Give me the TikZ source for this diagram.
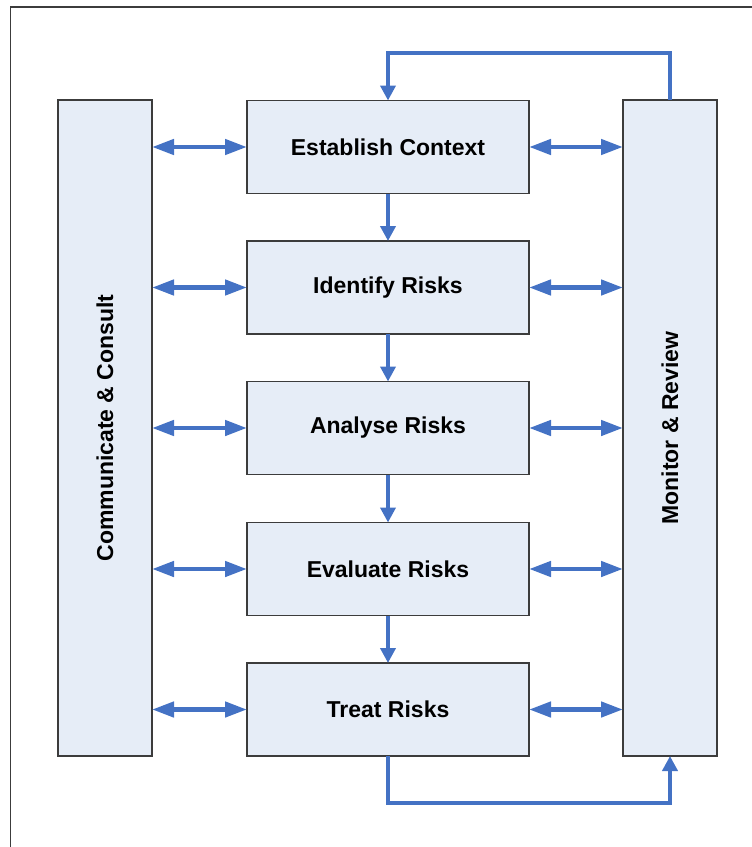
\documentclass[tikz,border=0pt]{standalone}
\usepackage{fontspec}
\setmainfont{Liberation Sans}
\usetikzlibrary{arrows.meta}
\definecolor{flowblue}{HTML}{4472C4}
\definecolor{boxfill}{HTML}{E6EDF7}
\definecolor{boxedge}{HTML}{3C3C3C}
\begin{document}
\begin{tikzpicture}[x=1pt,y=-1pt,
  frame/.style={draw=boxedge,line width=1.5pt},
  stepbox/.style={draw=boxedge,fill=boxfill,line width=1.3pt,minimum width=282pt,minimum height=93pt,
    inner sep=0pt,outer sep=0pt,font=\fontsize{23}{27}\selectfont\bfseries},
  sidebox/.style={draw=boxedge,fill=boxfill,line width=1.3pt,minimum width=656pt,minimum height=94pt,
    inner sep=0pt,outer sep=0pt,rotate=90,font=\fontsize{23}{27}\selectfont\bfseries},
  twoway/.style={draw=flowblue,line width=4.5pt,{Triangle[length=22pt,width=15pt]}-{Triangle[length=22pt,width=15pt]}},
  flow/.style={draw=flowblue,line width=4.3pt,-{Triangle[length=15pt,width=15pt]}}]
\useasboundingbox (0,0) rectangle (752,847);
% outer frame, open to the right and below
\draw[frame] (10.5,847) |- (752,7);
% process steps
\node[stepbox] (ctx)   at (388,147)   {Establish Context};
\node[stepbox] (ident) at (388,287.5) {Identify Risks};
\node[stepbox] (anal)  at (388,428)   {Analyse Risks};
\node[stepbox] (eval)  at (388,569)   {Evaluate Risks};
\node[stepbox] (treat) at (388,709.5) {Treat Risks};
% side columns (rotated: south is the right edge, north the left edge)
\node[sidebox] (comm) at (105,428)   {Communicate \& Consult};
\node[sidebox] (mon)  at (670,428)   {Monitor \& Review};
% main flow
\draw[flow] (ctx.south)   -- (ident.north);
\draw[flow] (ident.south) -- (anal.north);
\draw[flow] (anal.south)  -- (eval.north);
\draw[flow] (eval.south)  -- (treat.north);
% two-way links to the side columns
\foreach \s in {ctx,ident,anal,eval,treat}{
  \draw[twoway] (\s.west -| comm.south) -- (\s.west);
  \draw[twoway] (\s.east) -- (\s.east -| mon.north);
}
% feedback loops
\draw[flow] (mon.east) -- ++(0,-47) -| (ctx.north);
\draw[flow] (treat.south) -- ++(0,47) -| (mon.west);
\end{tikzpicture}
\end{document}
